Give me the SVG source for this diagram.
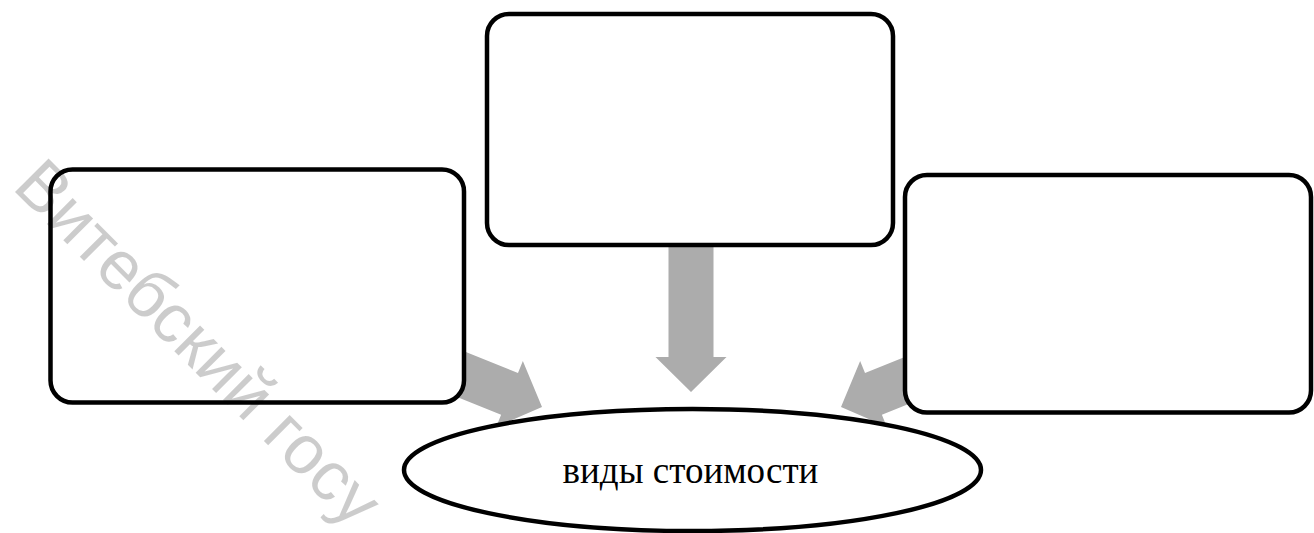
<svg xmlns="http://www.w3.org/2000/svg" width="1314" height="533" viewBox="0 0 1314 533">
  <style>
    .box { fill: #ffffff; stroke: #000000; stroke-width: 4.5; }
    .arrow { fill: #acacac; stroke: none; }
    .label { font-family: "Liberation Serif", "Times New Roman", serif; font-size: 37px; fill: #000000; text-anchor: middle; }
    .wm { font-family: "Liberation Sans", Arial, sans-serif; font-size: 69px; fill: #000000; fill-opacity: 0.2; }
  </style>
  <defs>
    <!-- block arrow, tip at origin, pointing along +x -->
    <polygon id="blockArrow" points="-112,-22.5 -35,-22.5 -35,-35.5 0,0 -35,35.5 -35,22.5 -112,22.5"/>
  </defs>

  <rect width="1314" height="533" fill="#ffffff"/>

  <g id="connectors">
    <use href="#blockArrow" class="arrow" transform="translate(542,407) rotate(22)"/>
    <polygon class="arrow" points="668.5,240 713.5,240 713.5,357 726.5,357 691,392 655.5,357 668.5,357"/>
    <use href="#blockArrow" class="arrow" transform="translate(841,407) rotate(158)"/>
  </g>

  <g id="box-left">
    <rect class="box" x="50.5" y="169.5" width="413.5" height="233" rx="22" ry="22"/>
  </g>
  <g id="box-top">
    <rect class="box" x="487" y="14" width="406" height="231" rx="22" ry="22"/>
  </g>
  <g id="box-right">
    <rect class="box" x="905" y="175" width="406" height="237.5" rx="22" ry="22"/>
  </g>

  <g id="target">
    <ellipse class="box" cx="692.5" cy="470" rx="288.5" ry="61"/>
    <text class="label" x="690.5" y="483">виды стоимости</text>
  </g>

  <!-- repository watermark -->
  <text class="wm" transform="translate(11,188) rotate(45)">Витебский госу</text>
</svg>
